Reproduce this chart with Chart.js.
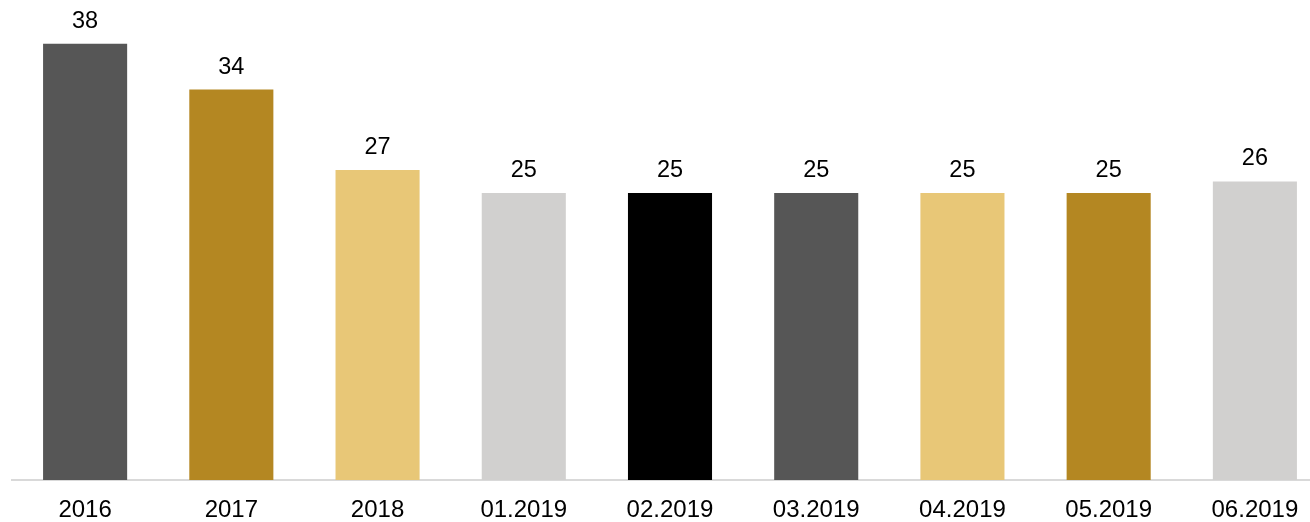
<!DOCTYPE html>
<html><head><meta charset="utf-8">
<script src="https://cdn.jsdelivr.net/npm/chart.js@4/dist/chart.umd.min.js"></script>
<style>html,body{margin:0;padding:0;overflow:hidden;background:#fff;width:1310px;height:522px}
#wrap{position:absolute;left:0;top:0;width:1328px;height:522px}</style>
</head><body><div id="wrap"><canvas id="c" width="1328" height="522"></canvas></div>
<script>
const categories = ["2016","2017","2018","01.2019","02.2019","03.2019","04.2019","05.2019","06.2019"];
const values = [38,34,27,25,25,25,25,25,26];
const barColors = ["#565656","#B48722","#E8C777","#D1D0CF","#000000","#565656","#E8C777","#B48722","#D1D0CF"];

const labelPlugin = {
  id:'vals',
  afterDatasetsDraw(chart){
    const ctx = chart.ctx;
    const meta = chart.getDatasetMeta(0);
    ctx.save();
    ctx.font = '23.5px "Liberation Sans", Arial, sans-serif';
    ctx.fillStyle = '#000';
    ctx.textAlign = 'center';
    ctx.textBaseline = 'alphabetic';
    meta.data.forEach((bar,i)=>{
      ctx.fillText(String(values[i]), bar.x, bar.y - 16);
    });
    ctx.restore();
  }
};

new Chart(document.getElementById('c'), {
  type:'bar',
  data:{labels:categories, datasets:[{data:values, backgroundColor:barColors, barPercentage:0.575, categoryPercentage:1}]},
  options:{
    responsive:false, animation:false,
    layout:{padding:{left:12,right:0,top:0,bottom:0}},
    plugins:{legend:{display:false}, tooltip:{enabled:false}},
    scales:{
      x:{grid:{display:false, drawTicks:false}, border:{display:true,color:'#D9D9D9',width:2},
         ticks:{color:'#000', font:{family:'"Liberation Sans", Arial, sans-serif', size:24, lineHeight:1.2}, padding:16},
         afterFit(scale){ scale.height = 42; }},
      y:{display:false, min:0, max:41.8}
    }
  },
  plugins:[labelPlugin]
});
</script></body></html>
